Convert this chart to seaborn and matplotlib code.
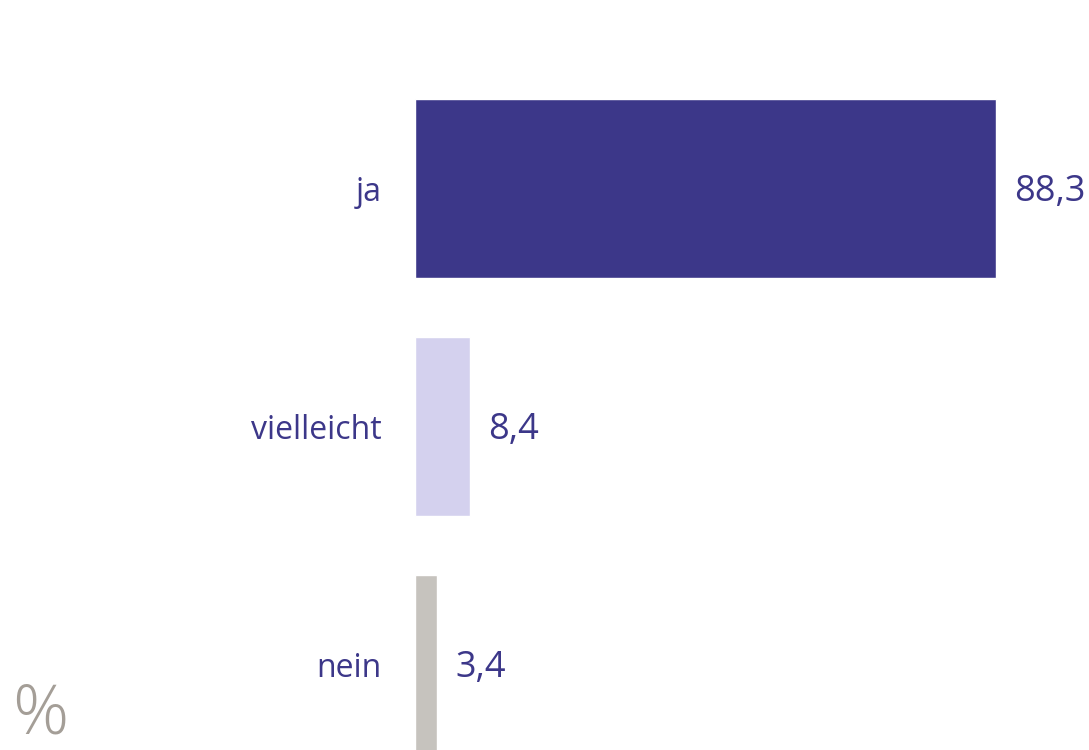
import matplotlib
matplotlib.use("Agg")
import matplotlib.pyplot as plt
import pandas as pd
import seaborn as sns
from matplotlib import font_manager

# 数据
categories = ["ja", "vielleicht", "nein"]
values = [88.3, 8.4, 3.4]
value_labels = ["88,3", "8,4", "3,4"]
bar_colors = ["#3c3789", "#d4d1ee", "#c6c3be"]

text_color = "#3c3789"
percent_color = "#a49e97"

# 选择字体（优先窄体）
installed = {f.name for f in font_manager.fontManager.ttflist}
font_name = "DejaVu Sans"
for cand in ["Liberation Sans Narrow", "Open Sans", "Noto Sans"]:
    if cand in installed:
        font_name = cand
        break

sns.set_theme(style="white")
plt.rcParams["font.family"] = [font_name, "DejaVu Sans"]

df = pd.DataFrame({"Antwort": categories, "Anteil": values})

fig = plt.figure(figsize=(10.89, 7.5), dpi=100)
ax = fig.add_axes([415 / 1089, 0, 1 - 415 / 1089, 1])

sns.barplot(data=df, x="Anteil", y="Antwort", hue="Antwort", palette=bar_colors,
            width=0.75, legend=False, ax=ax, saturation=1)

ax.set_xlim(0, (1089 - 415) / 6.58)
ax.set_ylim(2.359, -0.792)

# 数值标签
for i, (v, lab) in enumerate(zip(values, value_labels)):
    ax.annotate(lab, (v, i), xytext=(18, -3), textcoords="offset pixels",
                ha="left", va="center", fontsize=26, color=text_color)

# 类别标签
ax.set_yticks(range(len(categories)))
ax.set_yticklabels(categories, fontsize=23, color=text_color)
ax.tick_params(axis="y", length=0, pad=24)
ax.set_xticks([])
ax.set_xlabel("")
ax.set_ylabel("")
for s in ax.spines.values():
    s.set_visible(False)

fig.text(12 / 1089, 0.0, "%", fontsize=50, color=percent_color, ha="left", va="bottom",
         fontweight="light")

fig.savefig("out.png", dpi=100)
plt.close(fig)
